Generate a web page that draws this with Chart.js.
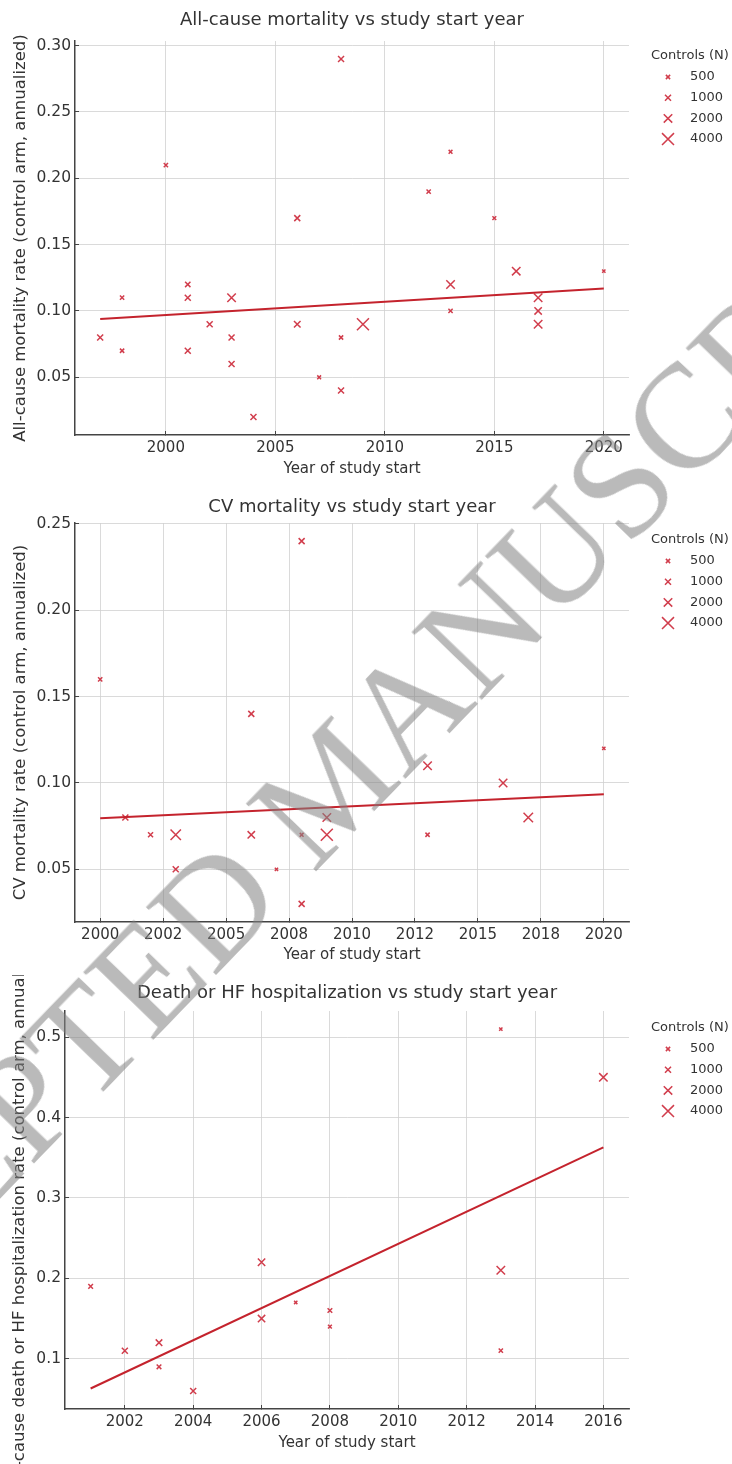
<!DOCTYPE html>
<html>
<head>
<meta charset="utf-8">
<script src="https://cdn.jsdelivr.net/npm/chart.js@4.4.1/dist/chart.umd.min.js"></script>
<style>
  html, body { margin: 0; padding: 0; background: #fff; }
  #wrap { position: relative; width: 732px; height: 1464px; overflow: hidden; }
  canvas { position: absolute; left: 0; }
  #stamp {
    position: absolute; left: 330px; top: 785px;
    transform: translate(-50%, -50%) rotate(-46deg);
    font: 148px "Liberation Serif", "DejaVu Serif", serif;
    line-height: 1; white-space: nowrap;
    color: rgba(130, 130, 130, 0.55);
    pointer-events: none;
  }
</style>
</head>
<body>
<div id="wrap">
  <canvas id="c1" width="732" height="485" style="top:0px"></canvas>
  <canvas id="c2" width="732" height="490" style="top:485px"></canvas>
  <canvas id="c3" width="732" height="489" style="top:975px"></canvas>
  <div id="stamp">ACCEPTED MANUSCRIPT</div>
</div>
<script>
// --- all-cause mortality ---
const allYear = [1997,1998,1998,2000,2001,2001,2001,2002,2003,2003,2003,2004,2006,2006,2007,2008,2008,2008,2009,2012,2013,2013,2013,2015,2016,2017,2017,2017,2020];
const allRate = [0.08,0.11,0.07,0.21,0.12,0.11,0.07,0.09,0.11,0.08,0.06,0.02,0.17,0.09,0.05,0.29,0.08,0.04,0.09,0.19,0.22,0.12,0.10,0.17,0.13,0.11,0.10,0.09,0.13];
const allN    = [1000,500,500,500,800,1000,1000,1000,2000,1000,1000,1000,1000,1200,400,1000,500,1000,4000,500,400,2000,500,400,2000,2000,1500,2000,300];
const allTrendYear = [1997, 2020];
const allTrendRate = [0.094, 0.117];
const allXTicks = [2000, 2005, 2010, 2015, 2020];
const allXLabels = ['2000', '2005', '2010', '2015', '2020'];
const allYTicks = [0.05, 0.10, 0.15, 0.20, 0.25, 0.30];
const allYLabels = ['0.05', '0.10', '0.15', '0.20', '0.25', '0.30'];

// --- CV mortality ---
const cvYear = [2000,2001,2002,2003,2003,2006,2006,2007,2008,2008,2008,2009,2009,2013,2013,2016,2017,2020];
const cvRate = [0.16,0.08,0.07,0.07,0.05,0.14,0.07,0.05,0.24,0.07,0.03,0.08,0.07,0.11,0.07,0.10,0.08,0.12];
const cvN    = [500,1000,700,3000,1000,1000,1500,300,1000,400,1000,2000,4000,2000,500,2000,2500,300];
const cvTrendYear = [2000, 2020];
const cvTrendRate = [0.0795, 0.0935];
// ticks every 2.5 years, labels rounded the way the original did
const cvXTicks = [2000, 2002.5, 2005, 2007.5, 2010, 2012.5, 2015, 2017.5, 2020];
const cvXLabels = ['2000', '2002', '2005', '2008', '2010', '2012', '2015', '2018', '2020'];
const cvYTicks = [0.05, 0.10, 0.15, 0.20, 0.25];
const cvYLabels = ['0.05', '0.10', '0.15', '0.20', '0.25'];

// --- death or HF hospitalization ---
const hfYear = [2001,2002,2003,2003,2004,2006,2006,2007,2008,2008,2013,2013,2013,2016];
const hfRate = [0.19,0.11,0.12,0.09,0.06,0.22,0.15,0.17,0.16,0.14,0.51,0.21,0.11,0.45];
const hfN    = [600,1000,1200,600,1000,1500,1500,300,600,400,300,2000,500,2000];
const hfTrendYear = [2001, 2016];
const hfTrendRate = [0.063, 0.363];
const hfXTicks = [2002, 2004, 2006, 2008, 2010, 2012, 2014, 2016];
const hfXLabels = ['2002', '2004', '2006', '2008', '2010', '2012', '2014', '2016'];
const hfYTicks = [0.1, 0.2, 0.3, 0.4, 0.5];
const hfYLabels = ['0.1', '0.2', '0.3', '0.4', '0.5'];

const legendN = [500, 1000, 2000, 4000];

const FONT = '"DejaVu Sans", "Noto Sans", sans-serif';
const MARK = 'rgba(204,40,56,0.9)';
const LINE = '#c4232d';
const TEXT = '#333';

const radiusFor = n => 0.134 * Math.sqrt(n);

const sizeLegend = {
  id: 'sizeLegend',
  afterDraw(chart, args, opts) {
    const ctx = chart.ctx;
    const top = chart.chartArea.top + opts.dy;
    ctx.save();
    ctx.font = '13px ' + FONT;
    ctx.fillStyle = TEXT;
    ctx.textBaseline = 'middle';
    ctx.textAlign = 'left';
    ctx.fillText('Controls (N)', 651, top);
    ctx.strokeStyle = MARK;
    ctx.lineWidth = 1.5;
    legendN.forEach((n, i) => {
      const y = top + 21 + i * 20.7;
      Chart.helpers.drawPoint(ctx, {pointStyle: 'crossRot', radius: radiusFor(n), borderWidth: 1.5}, 668, y);
      ctx.fillText(String(n), 690, y);
    });
    ctx.restore();
  }
};

function makeChart(id, p) {
  const pts = p.year.map((x, i) => ({x: x, y: p.rate[i]}));
  const trend = p.trendX.map((x, i) => ({x: x, y: p.trendY[i]}));
  const grid = {
    color: '#d0d0d0', lineWidth: 0.8, borderDash: [1.2, 2],
    drawTicks: true, tickLength: -4, tickColor: '#444', tickWidth: 1, tickBorderDash: []
  };
  return new Chart(document.getElementById(id), {
    type: 'scatter',
    data: {
      datasets: [
        {
          type: 'line', data: trend, borderColor: LINE, borderWidth: 2,
          pointRadius: 0, fill: false, order: 0
        },
        {
          data: pts, pointStyle: 'crossRot', borderColor: MARK, backgroundColor: MARK,
          pointBorderWidth: 1.5,
          pointRadius: c => radiusFor(p.n[c.dataIndex]),
          order: 1
        }
      ]
    },
    options: {
      responsive: false,
      animation: false,
      layout: {padding: {left: 0, right: 103, top: 0, bottom: 0}},
      plugins: {
        legend: {display: false},
        tooltip: {enabled: false},
        title: {
          display: true, text: p.title, fullSize: false, color: TEXT,
          font: {family: FONT, size: 18, weight: 'normal'},
          padding: {top: p.titleTop, bottom: p.titleBottom}
        },
        sizeLegend: {dy: p.legendDy}
      },
      scales: {
        x: {
          type: 'linear', min: p.xMin, max: p.xMax,
          afterBuildTicks: s => { s.ticks = p.xTicks.map(v => ({value: v})); },
          afterFit: s => { s.height = p.xHeight; },
          ticks: {
            autoSkip: false, maxRotation: 0, padding: 8, color: TEXT,
            font: {family: FONT, size: 15},
            callback: v => p.xLabels[p.xTicks.indexOf(v)]
          },
          grid: grid,
          border: {display: true, color: '#444', width: 1.5},
          title: {
            display: true, text: 'Year of study start', color: TEXT,
            font: {family: FONT, size: 15}, padding: {top: 0, bottom: p.xTitleBottom}
          }
        },
        y: {
          type: 'linear', min: p.yMin, max: p.yMax,
          afterBuildTicks: s => { s.ticks = p.yTicks.map(v => ({value: v})); },
          afterFit: s => { s.width = p.yWidth; },
          ticks: {
            padding: 8, color: TEXT, font: {family: FONT, size: 15.5},
            callback: v => p.yLabels[p.yTicks.indexOf(v)]
          },
          grid: grid,
          border: {display: true, color: '#444', width: 1.5},
          title: {
            display: true, text: p.yTitle, color: TEXT,
            font: {family: FONT, size: 16.5}, padding: {top: p.yTitleTop, bottom: 0}
          }
        }
      }
    },
    plugins: [sizeLegend]
  });
}

makeChart('c1', {
  year: allYear, rate: allRate, n: allN, trendX: allTrendYear, trendY: allTrendRate,
  xTicks: allXTicks, xLabels: allXLabels, yTicks: allYTicks, yLabels: allYLabels,
  xMin: 1995.85, xMax: 2021.15, yMin: 0.0065, yMax: 0.3035,
  title: 'All-cause mortality vs study start year',
  yTitle: 'All-cause mortality rate (control arm, annualized)',
  titleTop: 10, titleBottom: 9.4, xHeight: 50, xTitleBottom: 7, yWidth: 75, yTitleTop: 11, legendDy: 15
});

makeChart('c2', {
  year: cvYear, rate: cvRate, n: cvN, trendX: cvTrendYear, trendY: cvTrendRate,
  xTicks: cvXTicks, xLabels: cvXLabels, yTicks: cvYTicks, yLabels: cvYLabels,
  xMin: 1999, xMax: 2021, yMin: 0.0195, yMax: 0.2505,
  title: 'CV mortality vs study start year',
  yTitle: 'CV mortality rate (control arm, annualized)',
  titleTop: 12, titleBottom: 4.4, xHeight: 53, xTitleBottom: 11, yWidth: 75, yTitleTop: 11, legendDy: 17
});

makeChart('c3', {
  year: hfYear, rate: hfRate, n: hfN, trendX: hfTrendYear, trendY: hfTrendRate,
  xTicks: hfXTicks, xLabels: hfXLabels, yTicks: hfYTicks, yLabels: hfYLabels,
  xMin: 2000.25, xMax: 2016.75, yMin: 0.0375, yMax: 0.5325,
  title: 'Death or HF hospitalization vs study start year',
  yTitle: 'All-cause death or HF hospitalization rate (control arm, annualized)',
  titleTop: 8, titleBottom: 6.4, xHeight: 55, xTitleBottom: 12, yWidth: 65, yTitleTop: 10, legendDy: 17
});
</script>
</body>
</html>
